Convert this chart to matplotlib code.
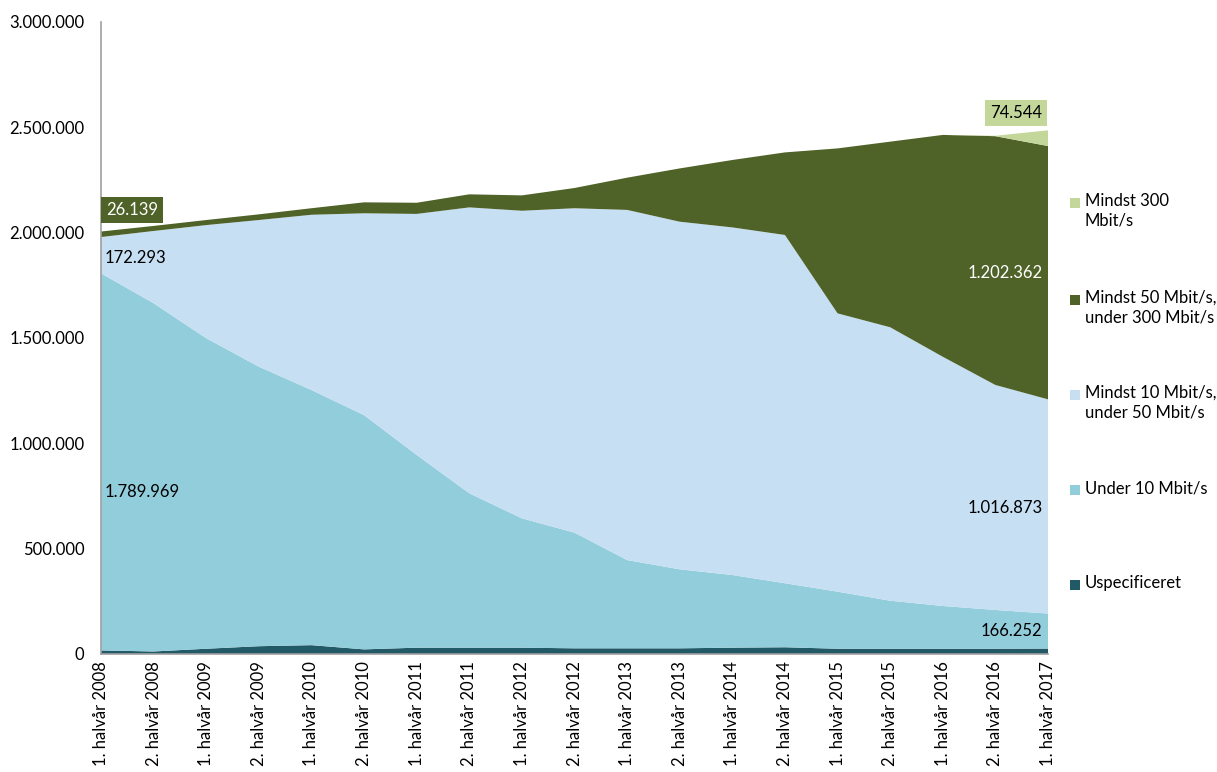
import matplotlib
matplotlib.use("Agg")
import matplotlib.pyplot as plt
from matplotlib.patches import Rectangle
import numpy as np

plt.rcParams['font.family'] = ['Lato', 'DejaVu Sans']

categories = [f"{h}. halvår {y}" for y in range(2008, 2018) for h in (1, 2)][:19]

uspec = [17000, 12000, 25000, 37000, 42000, 22000, 30000, 30000, 30000, 27000,
         27000, 27000, 30000, 32000, 25000, 25000, 25000, 25000, 25748]
under10 = [1789969, 1653000, 1474000, 1327000, 1211000, 1112000, 915000, 733000,
           614000, 549000, 419000, 375000, 345000, 304000, 271000, 228000, 203000,
           184000, 166252]
m10_50 = [172293, 343000, 537000, 696000, 832000, 958000, 1144000, 1357000,
          1460000, 1540000, 1662000, 1650000, 1650000, 1653000, 1321000, 1298000,
          1183000, 1068000, 1016873]
m50_300 = [26139, 24000, 24000, 27000, 31000, 52000, 53000, 62000, 73000, 96000,
           153000, 253000, 320000, 392000, 783000, 881000, 1053000, 1181000, 1202362]
m300 = [0, 0, 0, 0, 0, 0, 0, 0, 0, 0, 0, 0, 0, 0, 0, 0, 0, 2000, 74544]

series = [uspec, under10, m10_50, m50_300, m300]
labels = ["Uspecificeret", "Under 10 Mbit/s", "Mindst 10 Mbit/s,\nunder 50 Mbit/s",
          "Mindst 50 Mbit/s,\nunder 300 Mbit/s", "Mindst 300\nMbit/s"]
colors = ["#215967", "#92CDDC", "#C6DFF2", "#4F6228", "#C4D79B"]

FS = 12
W, H = 1217, 772
fig = plt.figure(figsize=(W / 100, H / 100), dpi=100)
ax = fig.add_axes([101 / W, 1 - 654 / H, (1048 - 101) / W, (654 - 22) / H])

x = np.arange(len(categories))
ax.stackplot(x, *series, colors=colors, linewidth=0)

ax.set_xlim(0, len(categories) - 1)
ax.set_ylim(0, 3000000)
yt = np.arange(0, 3000001, 500000)
ax.set_yticks(yt)
ax.set_yticklabels([f"{int(v):,}".replace(",", ".") for v in yt], fontsize=FS)
ax.set_xticks(x)
ax.set_xticklabels(categories, rotation=90, fontsize=FS)
ax.tick_params(axis='x', length=0, pad=5)
ax.tick_params(axis='y', length=0, pad=12)
for s in ("top", "right"):
    ax.spines[s].set_visible(False)
for s in ("left", "bottom"):
    ax.spines[s].set_color("#a0a0a0")
    ax.spines[s].set_linewidth(1.2)

cum = np.cumsum(np.array(series, dtype=float), axis=0)

def seg_mid(i, k):
    lo = cum[k - 1][i] if k > 0 else 0
    return (lo + cum[k][i]) / 2

def fmt(v):
    return f"{v:,}".replace(",", ".")

# labels at first point
ax.annotate(fmt(m50_300[0]), xy=(0, cum[3][0]), xytext=(5, 22),
            textcoords='offset pixels', ha='left', va='center', fontsize=FS, color='white',
            bbox=dict(boxstyle='square,pad=0.3', fc=colors[3], ec='none'))
ax.annotate(fmt(m10_50[0]), xy=(0, seg_mid(0, 2)), xytext=(4, -3),
            textcoords='offset pixels', ha='left', va='center', fontsize=FS, color='black')
ax.annotate(fmt(under10[0]), xy=(0, seg_mid(0, 1)), xytext=(4, -30),
            textcoords='offset pixels', ha='left', va='center', fontsize=FS, color='black')

# labels at last point
n = len(categories) - 1
ax.annotate(fmt(m300[n]), xy=(n, cum[4][n]), xytext=(-6, 17),
            textcoords='offset pixels', ha='right', va='center', fontsize=FS, color='black',
            bbox=dict(boxstyle='square,pad=0.3', fc=colors[4], ec='none'))
ax.annotate(fmt(m50_300[n]), xy=(n, seg_mid(n, 3)), xytext=(-5, 0),
            textcoords='offset pixels', ha='right', va='center', fontsize=FS, color='white')
ax.annotate(fmt(m10_50[n]), xy=(n, seg_mid(n, 2)), xytext=(-5, -2),
            textcoords='offset pixels', ha='right', va='center', fontsize=FS, color='black')
ax.annotate(fmt(under10[n]), xy=(n, seg_mid(n, 1)), xytext=(-6, 0),
            textcoords='offset pixels', ha='right', va='center', fontsize=FS, color='black')

# manual legend (top to bottom)
legend_y = [203, 300, 395, 490, 585]
for k, yy in zip([4, 3, 2, 1, 0], legend_y):
    fig.patches.append(Rectangle((1070 / W, 1 - (yy + 5) / H), 10 / W, 10 / H,
                                 transform=fig.transFigure, fc=colors[k], ec='none'))
    fig.text(1085 / W, 1 - (yy - 10) / H, labels[k], ha='left', va='top', fontsize=FS,
             linespacing=1.3)

fig.savefig("out.png", dpi=100)
